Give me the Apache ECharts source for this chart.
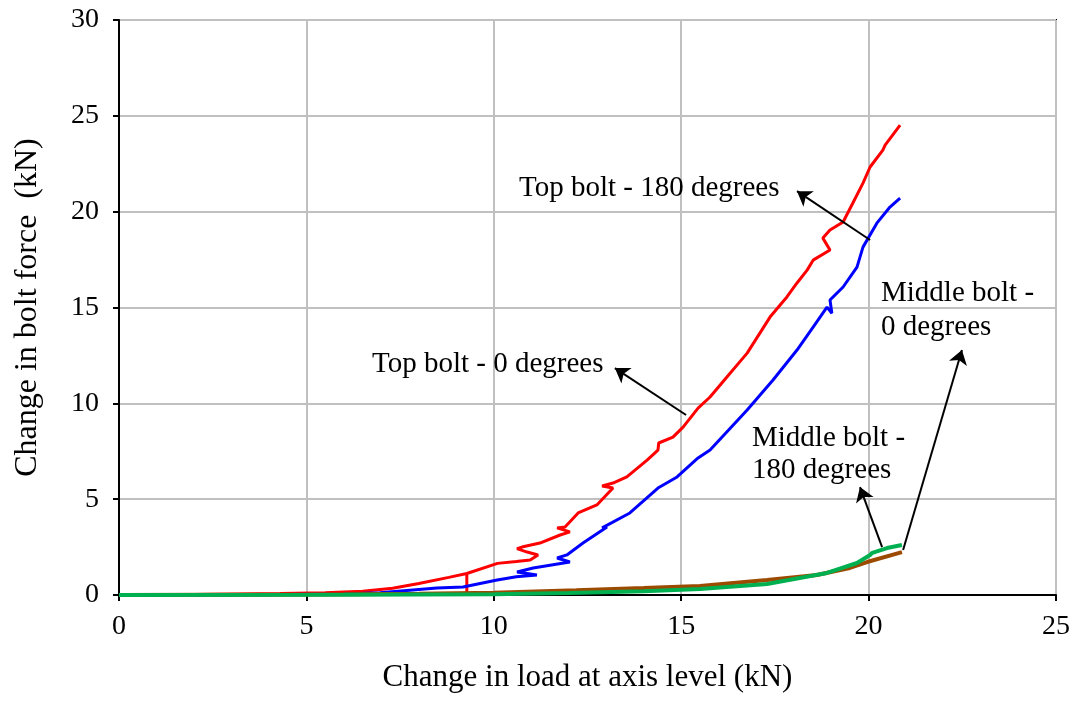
<!DOCTYPE html>
<html><head><meta charset="utf-8">
<script src="https://cdn.jsdelivr.net/npm/echarts@6/dist/echarts.min.js"></script>
<style>html,body{margin:0;padding:0;background:#fff}#c{width:1078px;height:702px}</style>
</head><body><div id="c"></div>
<script>
var xTicks = [0, 5, 10, 15, 20, 25];
var yTicks = [0, 5, 10, 15, 20, 25, 30];

var topBolt0 = [[0,0],[2,0.02],[4.3,0.08],[5.5,0.12],[6.5,0.2],[7.3,0.35],[8,0.6],[8.8,0.92],[9.28,1.12],[9.28,0],[9.28,1.12],[10.1,1.65],[10.6,1.75],[10.97,1.83],[11.18,2.09],[10.89,2.24],[10.62,2.42],[10.75,2.5],[11.23,2.71],[11.77,3.13],[12.03,3.29],[11.69,3.5],[11.9,3.55],[12.25,4.28],[12.75,4.7],[13.18,5.58],[12.89,5.69],[13.18,5.84],[13.55,6.16],[14.09,7.04],[14.38,7.56],[14.4,7.93],[14.78,8.24],[15.05,8.76],[15.45,9.75],[15.77,10.33],[16.22,11.37],[16.76,12.62],[17.37,14.5],[17.82,15.55],[18.09,16.28],[18.36,16.95],[18.52,17.47],[18.97,18.0],[18.78,18.62],[18.97,19.04],[19.32,19.46],[19.58,20.45],[19.85,21.49],[20.04,22.33],[20.38,23.21],[20.44,23.47],[20.84,24.52]];
var topBolt180 = [[0,0],[3,0.0],[6,0.05],[6.96,0.12],[8.48,0.37],[9.18,0.42],[10.09,0.78],[10.6,0.95],[11.15,1.04],[10.62,1.2],[11.05,1.41],[12.03,1.72],[11.69,1.93],[11.95,2.09],[12.38,2.71],[13.02,3.55],[12.89,3.5],[13.63,4.28],[14.38,5.58],[14.89,6.16],[15.45,7.15],[15.77,7.56],[16.76,9.65],[17.45,11.22],[18.09,12.78],[18.52,13.98],[18.89,15.02],[19.02,14.7],[18.97,15.39],[19.32,16.07],[19.69,17.11],[19.85,18.15],[20.22,19.4],[20.57,20.24],[20.84,20.71]];
var middleBolt0 = [[0,0],[5,0.02],[8,0.06],[10,0.12],[12.2,0.25],[14,0.36],[15.5,0.47],[17.29,0.78],[18.62,1.04],[19.5,1.41],[19.96,1.72],[20.89,2.24]];
var middleBolt180 = [[0,0],[6,0.01],[10,0.04],[12,0.1],[14,0.2],[15.5,0.31],[17.29,0.57],[18.89,1.15],[19.69,1.67],[20.04,2.09],[20.1,2.2],[20.49,2.45],[20.89,2.61]];

var arrowFrom = [[15.13,9.39],[20.04,18.52],[20.92,2.35],[20.36,2.5]];
var arrowTo = [[13.23,11.84],[18.09,21.07],[22.49,12.78],[19.77,5.63]];
var labels = ['Top bolt - 0 degrees','Top bolt - 180 degrees','Middle bolt -\n0 degrees','Middle bolt -\n180 degrees'];

var FONT = '"Liberation Serif","Times New Roman",serif';
var chart = echarts.init(document.getElementById('c'), null, {renderer:'canvas'});

var arrowData = arrowFrom.map(function(f,i){return [{coord:f},{coord:arrowTo[i]}];});

var labelPos = [
  {x:372, y:364, lh:33},
  {x:519, y:188, lh:33},
  {x:881, y:310, lh:34},
  {x:752, y:454, lh:32}
];

chart.setOption({
  animation:false,
  grid:{left:119,right:22,top:20,bottom:107,outerBoundsMode:'none',containLabel:false,show:true,borderColor:'#000',borderWidth:2,backgroundColor:'transparent'},
  xAxis:{type:'value',min:0,max:25,interval:5,
    name:'Change in load at axis level (kN)',nameLocation:'middle',nameGap:67,
    nameTextStyle:{fontFamily:FONT,fontSize:31,color:'#000'},
    axisLine:{show:true,onZero:false,lineStyle:{color:'#000',width:2}},
    axisTick:{show:true,inside:false,length:6,lineStyle:{color:'#000',width:2}},
    axisLabel:{fontFamily:FONT,fontSize:28,color:'#000',margin:18,formatter:function(v){return xTicks.indexOf(v)>=0?String(v):'';}},
    splitLine:{show:true,lineStyle:{color:'#c0c0c0',width:2}}},
  yAxis:{type:'value',min:0,max:30,interval:5,
    name:'Change in bolt force  (kN)',nameLocation:'middle',nameGap:75,
    nameTextStyle:{fontFamily:FONT,fontSize:32,color:'#000'},
    axisLine:{show:true,onZero:false,lineStyle:{color:'#000',width:2}},
    axisTick:{show:true,inside:false,length:6,lineStyle:{color:'#000',width:2}},
    axisLabel:{fontFamily:FONT,fontSize:28,color:'#000',margin:20,formatter:function(v){return yTicks.indexOf(v)>=0?String(v):'';}},
    splitLine:{show:true,lineStyle:{color:'#c0c0c0',width:2}}},
  series:[
    {name:'Top bolt - 0 degrees',type:'line',data:topBolt0,showSymbol:false,symbol:'none',lineStyle:{color:'#ff0000',width:3},itemStyle:{color:'#ff0000'},z:3},
    {name:'Top bolt - 180 degrees',type:'line',data:topBolt180,showSymbol:false,symbol:'none',lineStyle:{color:'#0000ff',width:3},itemStyle:{color:'#0000ff'},z:4},
    {name:'Middle bolt - 0 degrees',type:'line',data:middleBolt0,showSymbol:false,symbol:'none',lineStyle:{color:'#9c4a00',width:4},itemStyle:{color:'#9c4a00'},z:5},
    {name:'Middle bolt - 180 degrees',type:'line',data:middleBolt180,showSymbol:false,symbol:'none',lineStyle:{color:'#00b050',width:4},itemStyle:{color:'#00b050'},z:6,
      markLine:{silent:true,symbol:['none','arrow'],symbolSize:14,precision:4,
        itemStyle:{color:'#000'},
        lineStyle:{color:'#000',width:2,type:'solid'},label:{show:false},emphasis:{disabled:true},
        data:arrowData}}
  ],
  graphic: labels.map(function(t,i){
    return {type:'text',x:labelPos[i].x,y:labelPos[i].y,z:100,
      style:{text:t,fill:'#000',font:'29px '+FONT,lineHeight:labelPos[i].lh,verticalAlign:'middle',align:'left'}};
  })
});
</script></body></html>
